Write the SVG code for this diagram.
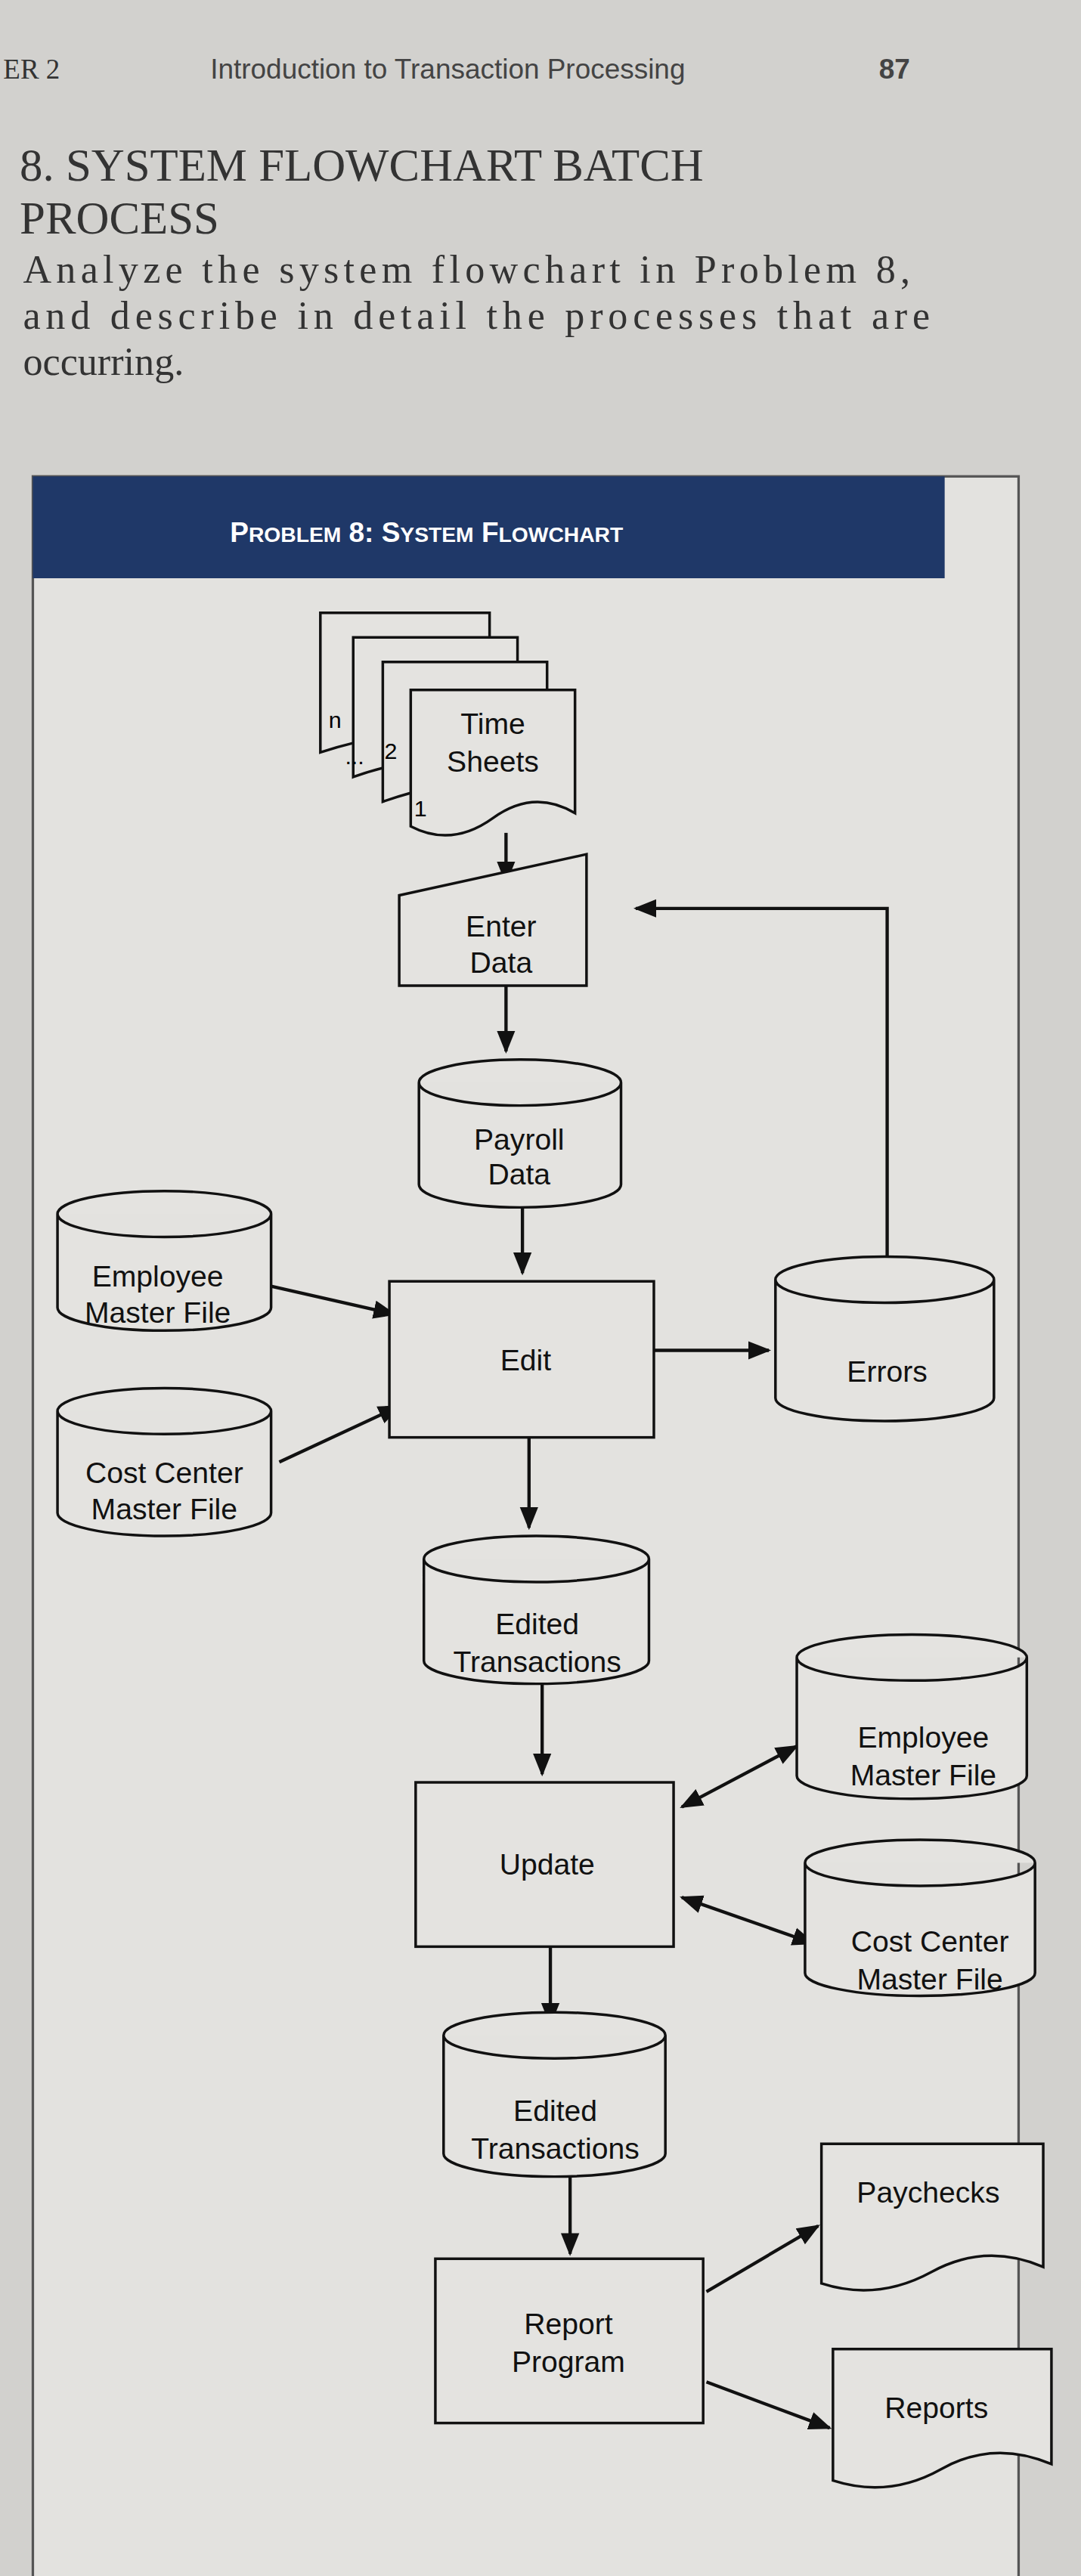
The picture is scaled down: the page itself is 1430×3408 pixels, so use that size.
<svg xmlns="http://www.w3.org/2000/svg" width="1430" height="3408" viewBox="0 0 1430 3408">
<style>
.s{fill:#e4e3e0;stroke:#111;stroke-width:1.6}
.l{font-family:"Liberation Sans",Arial,sans-serif;font-size:18px;fill:#111;text-anchor:middle}
.c{fill:none;stroke:#111;stroke-width:2}
.serif{font-family:"Liberation Serif","Times New Roman",serif;fill:#333}
</style>
<defs><marker id="a" viewBox="0 0 10 10" refX="9" refY="5" markerWidth="7" markerHeight="7" orient="auto-start-reverse"><path d="M0,1 L10,5 L0,9 Z" fill="#111"/></marker></defs>
<rect width="1430" height="3408" fill="#d2d1ce"/>
<g transform="scale(2.1733)">
<g id="header">
<text x="2" y="48" class="serif" font-size="17">ER 2</text>
<text x="128" y="48" font-family="Liberation Sans,sans-serif" font-size="17" fill="#444">Introduction to Transaction Processing</text>
<text x="535" y="48" font-family="Liberation Sans,sans-serif" font-size="17" font-weight="bold" fill="#444">87</text>
<text x="12" y="110" class="serif" font-size="28">8. SYSTEM FLOWCHART BATCH</text>
<text x="12" y="142" class="serif" font-size="28">PROCESS</text>
<text x="14" y="172" class="serif" font-size="24" textLength="540">Analyze the system flowchart in Problem 8,</text>
<text x="14" y="200" class="serif" font-size="24" textLength="552">and describe in detail the processes that are</text>
<text x="14" y="228" class="serif" font-size="24">occurring.</text>
</g>
<rect x="20" y="290" width="600" height="1290" fill="#e3e2df" stroke="#555" stroke-width="1.5"/>
<rect x="20" y="290" width="555" height="62" fill="#1f3868"/>
<text x="140" y="330" font-family="Liberation Sans,sans-serif" font-size="17" font-weight="bold" fill="#fff">P<tspan font-size="13">ROBLEM</tspan> 8: S<tspan font-size="13">YSTEM</tspan> F<tspan font-size="13">LOWCHART</tspan></text>
<g id="connectors">
<path class="c" marker-end="url(#a)" d="M308,507 V537"/>
<path class="c" marker-end="url(#a)" d="M308,600 V640"/>
<path class="c" marker-end="url(#a)" d="M318,735 V775"/>
<path class="c" marker-end="url(#a)" d="M165,783 L240,800"/>
<path class="c" marker-end="url(#a)" d="M170,890 L243,856"/>
<path class="c" marker-end="url(#a)" d="M398,822 H468"/>
<path class="c" marker-end="url(#a)" d="M540,765 V553 H387"/>
<path class="c" marker-end="url(#a)" d="M322,875 V930"/>
<path class="c" marker-end="url(#a)" d="M330,1025 V1080"/>
<path class="c" marker-start="url(#a)" marker-end="url(#a)" d="M415,1100 L485,1063"/>
<path class="c" marker-start="url(#a)" marker-end="url(#a)" d="M415,1155 L495,1183"/>
<path class="c" marker-end="url(#a)" d="M335,1185 V1232"/>
<path class="c" marker-end="url(#a)" d="M347,1325 V1372"/>
<path class="c" marker-end="url(#a)" d="M430,1395 L498,1355"/>
<path class="c" marker-end="url(#a)" d="M430,1450 L505,1478"/>
</g>
<g id="timesheets">
<path class="s" d="M195,373 H298 V450 Q250,440 195,458 Z"/>
<path class="s" d="M215,388 H315 V465 Q265,455 215,473 Z"/>
<path class="s" d="M233,403 H333 V480 Q283,470 233,488 Z"/>
<path class="s" d="M250,420 H350 V495 Q325,480 300,498 T250,503 Z"/>
<text x="200" y="443" font-family="Liberation Sans,sans-serif" font-size="14">n</text>
<text x="210" y="465" font-family="Liberation Sans,sans-serif" font-size="14">...</text>
<text x="234" y="462" font-family="Liberation Sans,sans-serif" font-size="14">2</text>
<text x="252" y="497" font-family="Liberation Sans,sans-serif" font-size="14">1</text>
<text class="l" x="300" y="447">Time</text><text class="l" x="300" y="470">Sheets</text>
</g>
<g id="enter"><path class="s" d="M243,545 L357,520 V600 H243 Z"/><text class="l" x="305" y="570">Enter</text><text class="l" x="305" y="592">Data</text></g>
<g id="payroll"><path class="s" d="M255,659 A61.5,14 0 0 1 378,659 V721 A61.5,14 0 0 1 255,721 Z M255,659 A61.5,14 0 0 0 378,659"/><text class="l" x="316" y="700">Payroll</text><text class="l" x="316" y="721">Data</text></g>
<g id="emp1"><path class="s" d="M35,739 A65,14 0 0 1 165,739 V796 A65,14 0 0 1 35,796 Z M35,739 A65,14 0 0 0 165,739"/><text class="l" x="96" y="783">Employee</text><text class="l" x="96" y="805">Master File</text></g>
<g id="cost1"><path class="s" d="M35,859 A65,14 0 0 1 165,859 V921 A65,14 0 0 1 35,921 Z M35,859 A65,14 0 0 0 165,859"/><text class="l" x="100" y="903">Cost Center</text><text class="l" x="100" y="925">Master File</text></g>
<g id="edit"><rect class="s" x="237" y="780" width="161" height="95"/><text class="l" x="320" y="834">Edit</text></g>
<g id="errors"><path class="s" d="M472,779 A66.5,14 0 0 1 605,779 V851 A66.5,14 0 0 1 472,851 Z M472,779 A66.5,14 0 0 0 605,779"/><text class="l" x="540" y="841">Errors</text></g>
<g id="et1"><path class="s" d="M258,949 A68.5,14 0 0 1 395,949 V1011 A68.5,14 0 0 1 258,1011 Z M258,949 A68.5,14 0 0 0 395,949"/><text class="l" x="327" y="995">Edited</text><text class="l" x="327" y="1018">Transactions</text></g>
<g id="update"><rect class="s" x="253" y="1085" width="157" height="100"/><text class="l" x="333" y="1141">Update</text></g>
<g id="emp2"><path class="s" d="M485,1009 A70,14 0 0 1 625,1009 V1081 A70,14 0 0 1 485,1081 Z M485,1009 A70,14 0 0 0 625,1009"/><text class="l" x="562" y="1064">Employee</text><text class="l" x="562" y="1087">Master File</text></g>
<g id="cost2"><path class="s" d="M490,1134 A70,14 0 0 1 630,1134 V1201 A70,14 0 0 1 490,1201 Z M490,1134 A70,14 0 0 0 630,1134"/><text class="l" x="566" y="1188">Cost Center</text><text class="l" x="566" y="1211">Master File</text></g>
<g id="et2"><path class="s" d="M270,1239 A67.5,14 0 0 1 405,1239 V1311 A67.5,14 0 0 1 270,1311 Z M270,1239 A67.5,14 0 0 0 405,1239"/><text class="l" x="338" y="1291">Edited</text><text class="l" x="338" y="1314">Transactions</text></g>
<g id="report"><rect class="s" x="265" y="1375" width="163" height="100"/><text class="l" x="346" y="1421">Report</text><text class="l" x="346" y="1444">Program</text></g>
<g id="paychecks"><path class="s" d="M500,1305 H635 V1380 Q600,1365 567,1383 T500,1390 Z"/><text class="l" x="565" y="1341">Paychecks</text></g>
<g id="reports"><path class="s" d="M507,1430 H640 V1500 Q605,1485 573,1503 T507,1510 Z"/><text class="l" x="570" y="1472">Reports</text></g>
</g>
</svg>
